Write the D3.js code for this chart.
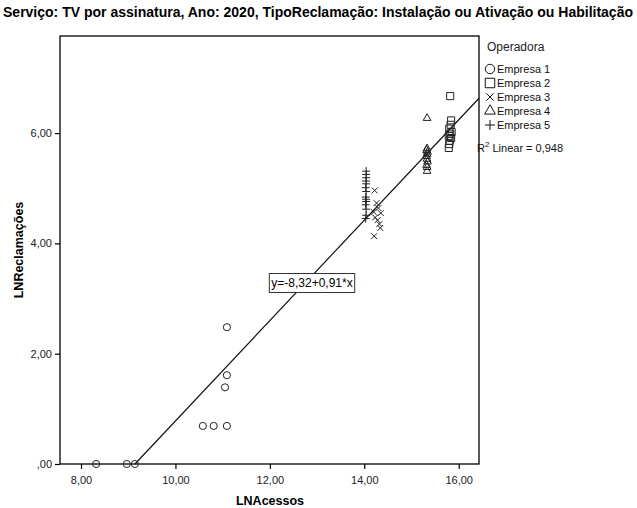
<!DOCTYPE html>
<html>
<head>
<meta charset="utf-8">
<script src="https://cdn.jsdelivr.net/npm/d3@7"></script>
<style>
  body { margin: 0; background: #fff; }
  text { font-family: "Liberation Sans", Arial, sans-serif; }
</style>
</head>
<body>
<div id="chart"></div>
<script>
// Data (LNAcessos, LNReclamações) per operator
const empresa1 = [[8.32, 0], [8.97, 0], [9.14, 0], [10.58, 0.69], [10.81, 0.69], [11.09, 0.69],
    [11.05, 1.39], [11.09, 1.61], [11.09, 2.48]];
const empresa2 = [[15.82, 6.67], [15.84, 6.23], [15.83, 6.15], [15.80, 6.08], [15.85, 6.02],
    [15.82, 5.99], [15.79, 5.95], [15.84, 5.91], [15.81, 5.86], [15.80, 5.80], [15.79, 5.73]];
const empresa3 = [[14.22, 4.96], [14.26, 4.73], [14.30, 4.64], [14.20, 4.57], [14.35, 4.55],
    [14.23, 4.47], [14.28, 4.42], [14.32, 4.35], [14.34, 4.28], [14.21, 4.13]];
const empresa4 = [[15.33, 6.27], [15.33, 5.72], [15.32, 5.69], [15.34, 5.66], [15.33, 5.62],
    [15.32, 5.58], [15.33, 5.53], [15.34, 5.48], [15.32, 5.42], [15.33, 5.38], [15.33, 5.31]];
const empresa5 = [[14.04, 5.31], [14.04, 5.25], [14.04, 5.19], [14.04, 5.13], [14.04, 5.08],
    [14.03, 5.01], [14.04, 4.94], [14.03, 4.84], [14.04, 4.80], [14.04, 4.76], [14.03, 4.70],
    [14.04, 4.62], [14.04, 4.51], [14.03, 4.45]];

const seriesNames = ['Empresa 1', 'Empresa 2', 'Empresa 3', 'Empresa 4', 'Empresa 5'];
const seriesData = [empresa1, empresa2, empresa3, empresa4, empresa5];
const xTicks = [8, 10, 12, 14, 16];
const yTicks = [0, 2, 4, 6];
const intercept = -8.32;
const slope = 0.91;
const r2 = 0.948;

const width = 637;
const height = 508;
const margin = { top: 36, right: 158, bottom: 44, left: 60 };

const svg = d3.select('#chart')
    .append('svg')
    .attr('width', width)
    .attr('height', height);

const xScale = d3.scaleLinear()
    .domain([7.555, 16.43])
    .range([margin.left, width - margin.right]);

const yScale = d3.scaleLinear()
    .domain([0, 7.76])
    .range([height - margin.bottom, margin.top]);

const fmt = v => v === 0 ? ',00' : d3.format('.2f')(v).replace('.', ',');

// Title
svg.append('text')
    .attr('x', 318)
    .attr('y', 17)
    .attr('text-anchor', 'middle')
    .style('font-family', '"Liberation Sans Narrow", "Liberation Sans", sans-serif')
    .style('font-weight', 'bold')
    .style('font-size', '14px')
    .attr('textLength', 630)
    .attr('lengthAdjust', 'spacingAndGlyphs')
    .text('Serviço: TV por assinatura, Ano: 2020, TipoReclamação: Instalação ou Ativação ou Habilitação');

// Plot frame
svg.append('rect')
    .attr('x', xScale.range()[0])
    .attr('y', yScale.range()[1])
    .attr('width', xScale.range()[1] - xScale.range()[0])
    .attr('height', yScale.range()[0] - yScale.range()[1])
    .attr('fill', 'none')
    .attr('stroke', '#000')
    .attr('stroke-width', 1.3);

// Axes
const xAxis = d3.axisBottom(xScale).tickValues(xTicks).tickFormat(fmt).tickSize(5);
const gx = svg.append('g')
    .attr('transform', `translate(0, ${yScale(0)})`)
    .call(xAxis);

const yAxis = d3.axisLeft(yScale).tickValues(yTicks).tickFormat(fmt).tickSize(5);
const gy = svg.append('g')
    .attr('transform', `translate(${margin.left}, 0)`)
    .call(yAxis);

[gx, gy].forEach(g => {
    g.select('.domain').remove();
    g.selectAll('line').attr('stroke', '#000').attr('stroke-width', 1.2);
    g.selectAll('text')
        .style('font-family', '"Liberation Sans", Arial, sans-serif')
        .style('font-size', '11px')
        .attr('fill', '#222');
});
gx.selectAll('text').attr('dy', '1.05em');

// Axis labels
svg.append('text')
    .attr('x', 270)
    .attr('y', 505)
    .attr('text-anchor', 'middle')
    .style('font-weight', 'bold')
    .style('font-size', '12.5px')
    .text('LNAcessos');

svg.append('text')
    .attr('transform', 'rotate(-90)')
    .attr('x', -250)
    .attr('y', 23)
    .attr('text-anchor', 'middle')
    .style('font-weight', 'bold')
    .style('font-size', '12.5px')
    .text('LNReclamações');

// Regression line (fit line, clipped to the plot area)
const x0 = -intercept / slope;
const x1 = xScale.domain()[1];
svg.append('line')
    .attr('x1', xScale(x0))
    .attr('y1', yScale(0))
    .attr('x2', xScale(x1))
    .attr('y2', yScale(intercept + slope * x1))
    .attr('stroke', '#111')
    .attr('stroke-width', 1.2);

// Marker shapes
const symbolTypes = [d3.symbolCircle, d3.symbolSquare, d3.symbolTimes, d3.symbolTriangle];
const plotSizes = [40, 50, 24, 26];
const legendSizes = [70, 90, 36, 50];

function plusPath(s) {
    return `M${-s},0H${s}M0,${-s}V${s}`;
}

function markerPath(i, sizes, plus) {
    if (i === 4) return plusPath(plus);
    return d3.symbol().type(symbolTypes[i]).size(sizes[i])();
}

seriesData.forEach((data, i) => {
    svg.append('g')
        .selectAll('path')
        .data(data)
        .enter()
        .append('path')
        .attr('transform', d => `translate(${xScale(d[0])},${yScale(d[1])})`)
        .attr('d', markerPath(i, plotSizes, 4))
        .attr('fill', 'none')
        .attr('stroke', '#222')
        .attr('stroke-width', 1);
});

// Equation label
const eqX = 312, eqY = 283;
const eq = svg.append('g');
const eqText = eq.append('text')
    .attr('x', eqX)
    .attr('y', eqY + 4)
    .attr('text-anchor', 'middle')
    .style('font-size', '12px')
    .text('y=-8,32+0,91*x');
const bb = eqText.node().getBBox();
eq.insert('rect', 'text')
    .attr('x', bb.x - 2)
    .attr('y', eqY - 9.5)
    .attr('width', bb.width + 4)
    .attr('height', 19)
    .attr('fill', '#fff')
    .attr('stroke', '#333')
    .attr('stroke-width', 1);

// Legend
const legend = svg.append('g');
legend.append('text')
    .attr('x', 487)
    .attr('y', 51)
    .style('font-size', '12px')
    .attr('fill', '#222')
    .text('Operadora');

seriesNames.forEach((name, i) => {
    const ly = 69 + i * 14;
    legend.append('path')
        .attr('transform', `translate(490,${ly})`)
        .attr('d', markerPath(i, legendSizes, 5))
        .attr('fill', 'none')
        .attr('stroke', '#111')
        .attr('stroke-width', 1);
    legend.append('text')
        .attr('x', 497)
        .attr('y', ly + 4)
        .style('font-size', '11px')
        .attr('fill', '#111')
        .text(name);
});

const r2Text = legend.append('text')
    .attr('x', 477)
    .attr('y', 152)
    .style('font-size', '11px')
    .attr('fill', '#111');
r2Text.append('tspan').text('R');
r2Text.append('tspan').attr('dy', -5).style('font-size', '8px').text('2');
r2Text.append('tspan').attr('dy', 5).text(' Linear = ' + d3.format('.3f')(r2).replace('.', ','));
</script>
</body>
</html>
